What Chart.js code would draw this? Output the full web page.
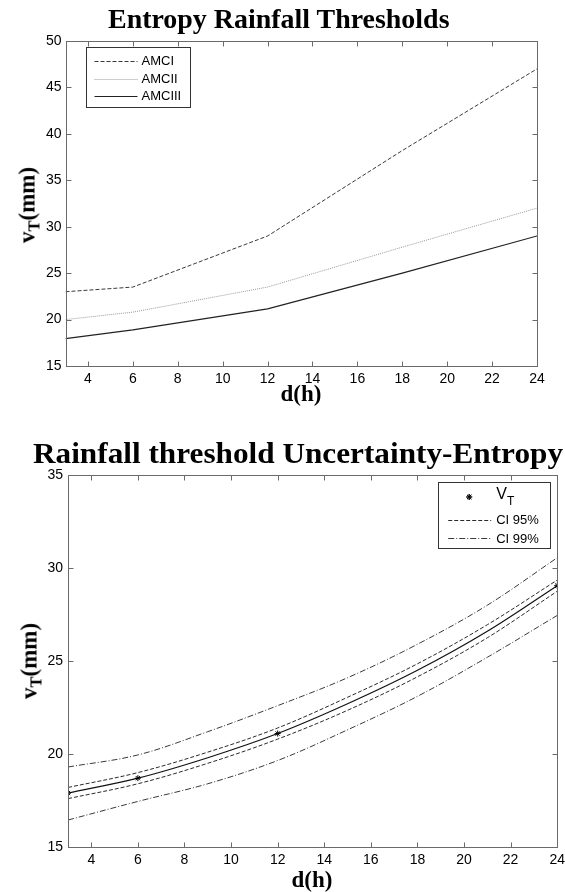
<!DOCTYPE html>
<html>
<head>
<meta charset="utf-8">
<script src="https://cdn.jsdelivr.net/npm/chart.js@4.4.0/dist/chart.umd.min.js"></script>
<style>
body { margin:0; background:#fff; width:565px; height:892px; position:relative; overflow:hidden; }
canvas { position:absolute; left:0; }
#c1 { top:0; }
#c2 { top:430px; }
.ttl { position:absolute; font-family:"Liberation Serif", serif; font-weight:bold; color:#000; white-space:nowrap; line-height:1; transform-origin:0 0; }
.ax { position:absolute; font-family:"Liberation Serif", serif; font-weight:bold; font-size:23px; color:#000; white-space:nowrap; line-height:1; }
.ax sub { font-size:0.72em; vertical-align:-0.28em; line-height:0; }
.rot { transform:translate(-50%,-50%) rotate(-90deg); }
.ctr { transform:translate(-50%,-50%); }
</style>
</head>
<body>
<canvas id="c1" width="565" height="410"></canvas>
<canvas id="c2" width="570" height="462"></canvas>

<div class="ttl" id="t1">Entropy Rainfall Thresholds</div>
<div class="ttl" id="t2">Rainfall threshold Uncertainty-Entropy</div>
<div class="ax rot" style="left:27px; top:205px;">v<sub>T</sub>(mm)</div>
<div class="ax ctr" style="left:301px; top:393px;">d(h)</div>
<div class="ax rot" style="left:29px; top:661px;">v<sub>T</sub>(mm)</div>
<div class="ax ctr" style="left:312px; top:879px;">d(h)</div>

<script>
// top chart: thresholds by antecedent moisture condition
var hours = [3, 6, 12, 18, 24];
var amc1 = [23.0, 23.5, 29.0, 38.2, 47.0];
var amc2 = [20.0, 20.8, 23.5, 27.8, 32.0];
var amc3 = [17.95, 18.9, 21.15, 25.0, 29.0];
var xTicks = [4, 6, 8, 10, 12, 14, 16, 18, 20, 22, 24];
var yTicksTop = [15, 20, 25, 30, 35, 40, 45, 50];

// bottom chart: VT with confidence bands
var vtHours = [3, 6, 12, 24];
var vtPoints = [17.9, 18.7, 21.1, 29.05];
var fitHours = [3, 6, 9, 12, 15, 18, 21, 24];
var vtFit  = [17.9, 18.7, 19.8, 21.1, 22.7, 24.5, 26.6, 29.05];
var ci95Up = [18.2, 19.0, 20.1, 21.4, 23.05, 24.85, 26.95, 29.35];
var ci95Lo = [17.6, 18.4, 19.5, 20.8, 22.35, 24.15, 26.25, 28.75];
var ci99Up = [19.3, 19.95, 21.2, 22.6, 24.1, 25.9, 28.0, 30.55];
var ci99Lo = [16.45, 17.45, 18.4, 19.65, 21.3, 23.1, 25.2, 27.45];
var yTicksBottom = [15, 20, 25, 30, 35];

function pts(xs, ys) {
  return xs.map(function(x, i) { return {x: x, y: ys[i]}; });
}

function placeTitle(id, size, left, baseline, width) {
  var el = document.getElementById(id);
  var ctx = document.createElement('canvas').getContext('2d');
  ctx.font = 'bold ' + size + 'px "Liberation Serif"';
  var w = ctx.measureText(el.textContent).width;
  el.style.fontSize = size + 'px';
  el.style.left = left + 'px';
  el.style.top = (baseline - 0.8375 * size) + 'px';
  el.style.transform = 'scaleX(' + (width / w) + ')';
}
placeTitle('t1', 27, 108, 28.5, 342);
placeTitle('t2', 30, 33, 463, 530);

// frame + inward ticks on all four sides, matlab style
var framePlugin = {
  id: 'frame',
  afterDraw: function(chart) {
    var ctx = chart.ctx, a = chart.chartArea;
    var xs = chart.scales.x, ys = chart.scales.y;
    var L = Math.round(a.left) + 0.5, R = Math.round(a.right) + 0.5;
    var T = Math.round(a.top) + 0.5, B = Math.round(a.bottom) + 0.5;
    ctx.save();
    ctx.strokeStyle = '#6a6a6a';
    ctx.lineWidth = 1;
    ctx.setLineDash([]);
    ctx.beginPath();
    xs.ticks.forEach(function(t) {
      var p = Math.round(xs.getPixelForValue(t.value)) + 0.5;
      ctx.moveTo(p, B); ctx.lineTo(p, B - 5);
      ctx.moveTo(p, T); ctx.lineTo(p, T + 5);
    });
    ys.ticks.forEach(function(t) {
      var p = Math.round(ys.getPixelForValue(t.value)) + 0.5;
      ctx.moveTo(L, p); ctx.lineTo(L + 5, p);
      ctx.moveTo(R, p); ctx.lineTo(R - 5, p);
    });
    ctx.stroke();
    ctx.strokeRect(L, T, R - L, B - T);
    ctx.restore();
  }
};

// legend box drawn inside the axes
var boxLegendPlugin = {
  id: 'boxLegend',
  afterDraw: function(chart, args, o) {
    if (!o || !o.rows) return;
    var ctx = chart.ctx, a = chart.chartArea;
    var bx = o.right != null ? a.right - o.right - o.w : a.left + o.left;
    var by = a.top + o.top;
    ctx.save();
    ctx.fillStyle = '#fff';
    ctx.fillRect(bx, by, o.w, o.h);
    ctx.strokeStyle = '#333';
    ctx.lineWidth = 1;
    ctx.strokeRect(Math.round(bx) + 0.5, Math.round(by) + 0.5, o.w, o.h);
    o.rows.forEach(function(r) {
      var ds = chart.data.datasets[r.ds];
      var y = Math.round(by + r.y) + 0.5;
      if (r.marker) {
        ctx.setLineDash([]);
        Chart.helpers.drawPoint(ctx, {pointStyle: ds.pointStyle, radius: ds.pointRadius, borderWidth: 1},
          bx + o.markerX, by + r.y);
        ctx.strokeStyle = ds.borderColor;
        ctx.stroke();
      } else {
        ctx.strokeStyle = ds.borderColor;
        ctx.lineWidth = ds.borderWidth;
        ctx.setLineDash(ds.borderDash || []);
        ctx.beginPath();
        ctx.moveTo(bx + o.lineFrom, y);
        ctx.lineTo(bx + o.lineTo, y);
        ctx.stroke();
      }
      ctx.setLineDash([]);
      ctx.fillStyle = '#000';
      ctx.textBaseline = 'middle';
      ctx.textAlign = 'left';
      if (r.sub) {
        ctx.font = '16px "Liberation Sans"';
        ctx.fillText(r.label, bx + o.textX, by + r.y - 2);
        var w = ctx.measureText(r.label).width;
        ctx.font = '12px "Liberation Sans"';
        ctx.fillText(r.sub, bx + o.textX + w, by + r.y + 5);
      } else {
        ctx.font = '13px "Liberation Sans"';
        ctx.fillText(r.label, bx + o.textX, by + r.y + 1);
      }
    });
    ctx.restore();
  }
};

function makeOptions(yMin, yMax, yTicks, yWidth, xHeight, pad, yPad, legend) {
  return {
    responsive: false,
    animation: false,
    layout: { padding: pad },
    plugins: { legend: { display: false }, tooltip: { enabled: false }, boxLegend: legend },
    scales: {
      x: {
        type: 'linear', min: 3, max: 24,
        grid: { display: false, drawTicks: false },
        border: { display: false },
        afterBuildTicks: function(s) { s.ticks = xTicks.map(function(v) { return {value: v}; }); },
        afterFit: function(s) { s.height = xHeight; },
        ticks: { color: '#000', padding: 5, maxRotation: 0, font: { family: 'Liberation Sans', size: 14 } }
      },
      y: {
        type: 'linear', min: yMin, max: yMax,
        grid: { display: false, drawTicks: false },
        border: { display: false },
        afterBuildTicks: function(s) { s.ticks = yTicks.map(function(v) { return {value: v}; }); },
        afterFit: function(s) { s.width = yWidth; },
        ticks: { color: '#000', padding: yPad, font: { family: 'Liberation Sans', size: 14 } }
      }
    }
  };
}

new Chart(document.getElementById('c1'), {
  type: 'scatter',
  data: {
    datasets: [
      { label: 'AMCI', data: pts(hours, amc1), showLine: true, borderColor: '#3a3a3a', borderWidth: 1, borderDash: [4, 2], pointRadius: 0 },
      { label: 'AMCII', data: pts(hours, amc2), showLine: true, borderColor: '#9a9a9a', borderWidth: 1, borderDash: [1, 1], pointRadius: 0 },
      { label: 'AMCIII', data: pts(hours, amc3), showLine: true, borderColor: '#222', borderWidth: 1.2, pointRadius: 0 }
    ]
  },
  options: makeOptions(15, 50, yTicksTop, 65.5, 44, { top: 41, right: 28, left: 0, bottom: 0 }, 4,
    { left: 20, top: 6, w: 104, h: 60, lineFrom: 9, lineTo: 52, textX: 56,
      rows: [ { ds: 0, y: 13.5, label: 'AMCI' }, { ds: 1, y: 31.5, label: 'AMCII' }, { ds: 2, y: 48.5, label: 'AMCIII' } ] }),
  plugins: [framePlugin, boxLegendPlugin]
});

new Chart(document.getElementById('c2'), {
  type: 'scatter',
  data: {
    datasets: [
      { label: 'VT', data: pts(vtHours, vtPoints), showLine: false, pointStyle: 'star', pointRadius: 3, borderColor: '#000', backgroundColor: '#000', borderWidth: 1 },
      { label: 'CI 95%', data: pts(fitHours, ci95Up), showLine: true, tension: 0.35, borderColor: '#2a2a2a', borderWidth: 1, borderDash: [4, 2], pointRadius: 0 },
      { label: 'CI 99%', data: pts(fitHours, ci99Up), showLine: true, tension: 0.35, borderColor: '#3a3a3a', borderWidth: 1, borderDash: [6, 2, 1, 2], pointRadius: 0 },
      { label: 'CI 95% low', data: pts(fitHours, ci95Lo), showLine: true, tension: 0.35, borderColor: '#2a2a2a', borderWidth: 1, borderDash: [4, 2], pointRadius: 0 },
      { label: 'CI 99% low', data: pts(fitHours, ci99Lo), showLine: true, tension: 0.35, borderColor: '#3a3a3a', borderWidth: 1, borderDash: [6, 2, 1, 2], pointRadius: 0 },
      { label: 'fit', data: pts(fitHours, vtFit), showLine: true, tension: 0.35, borderColor: '#111', borderWidth: 1.2, pointRadius: 0 }
    ]
  },
  options: makeOptions(15, 35, yTicksBottom, 68, 45, { top: 45, right: 0, left: 0, bottom: 0 }, 5,
    { right: 7, top: 7, w: 112, h: 66, lineFrom: 10, lineTo: 53, textX: 58, markerX: 31,
      rows: [ { ds: 0, y: 15, label: 'V', sub: 'T', marker: true }, { ds: 1, y: 37.5, label: 'CI 95%' }, { ds: 2, y: 56, label: 'CI 99%' } ] }),
  plugins: [framePlugin, boxLegendPlugin]
});
</script>
</body>
</html>
